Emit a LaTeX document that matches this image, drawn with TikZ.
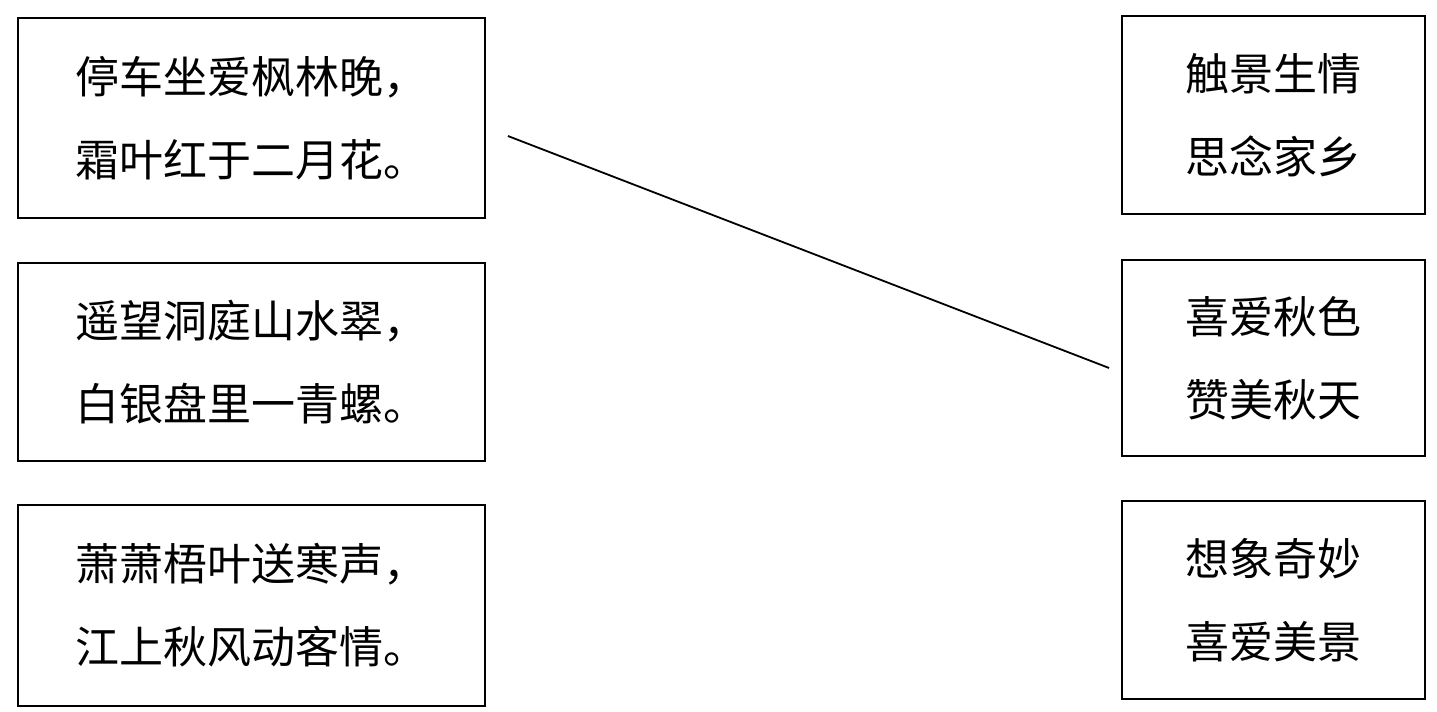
\documentclass[tikz,border=0pt]{standalone}
\usepackage{fontspec}
\newfontfamily\cjk{Noto Sans CJK SC}
\usetikzlibrary{positioning}

\tikzset{
  poembox/.style={draw, line width=0.9pt, minimum width=233.5pt, align=center,
    font=\cjk\fontsize{22}{41.5}\selectfont},
  moodbox/.style={draw, line width=0.9pt, minimum width=151.5pt, align=center,
    font=\cjk\fontsize{22}{41.5}\selectfont}
}

\begin{document}
\begin{tikzpicture}[x=0.5pt, y=-0.5pt]
  \useasboundingbox (0,0) rectangle (1437,712);
  % poems on the left
  \node[poembox, minimum height=100pt] (poemA) at (251.5,118) {停车坐爱枫林晚，\\霜叶红于二月花。};
  \node[poembox, minimum height=99pt] (poemB) at (251.5,362) {遥望洞庭山水翠，\\白银盘里一青螺。};
  \node[poembox, minimum height=100.5pt] (poemC) at (251.5,605.5) {萧萧梧叶送寒声，\\江上秋风动客情。};
  % feelings on the right
  \node[moodbox, minimum height=99pt] (moodA) at (1273.5,115) {触景生情\\思念家乡};
  \node[moodbox, minimum height=98pt] (moodB) at (1273.5,358) {喜爱秋色\\赞美秋天};
  \node[moodbox, minimum height=99pt] (moodC) at (1273.5,600) {想象奇妙\\喜爱美景};
  % the one link drawn
  \coordinate (linkS) at ([shift={(22,18)}]poemA.east);
  \coordinate (linkE) at ([shift={(-12,10)}]moodB.west);
  \draw[line width=0.9pt] (linkS) -- (linkE);
\end{tikzpicture}
\end{document}
